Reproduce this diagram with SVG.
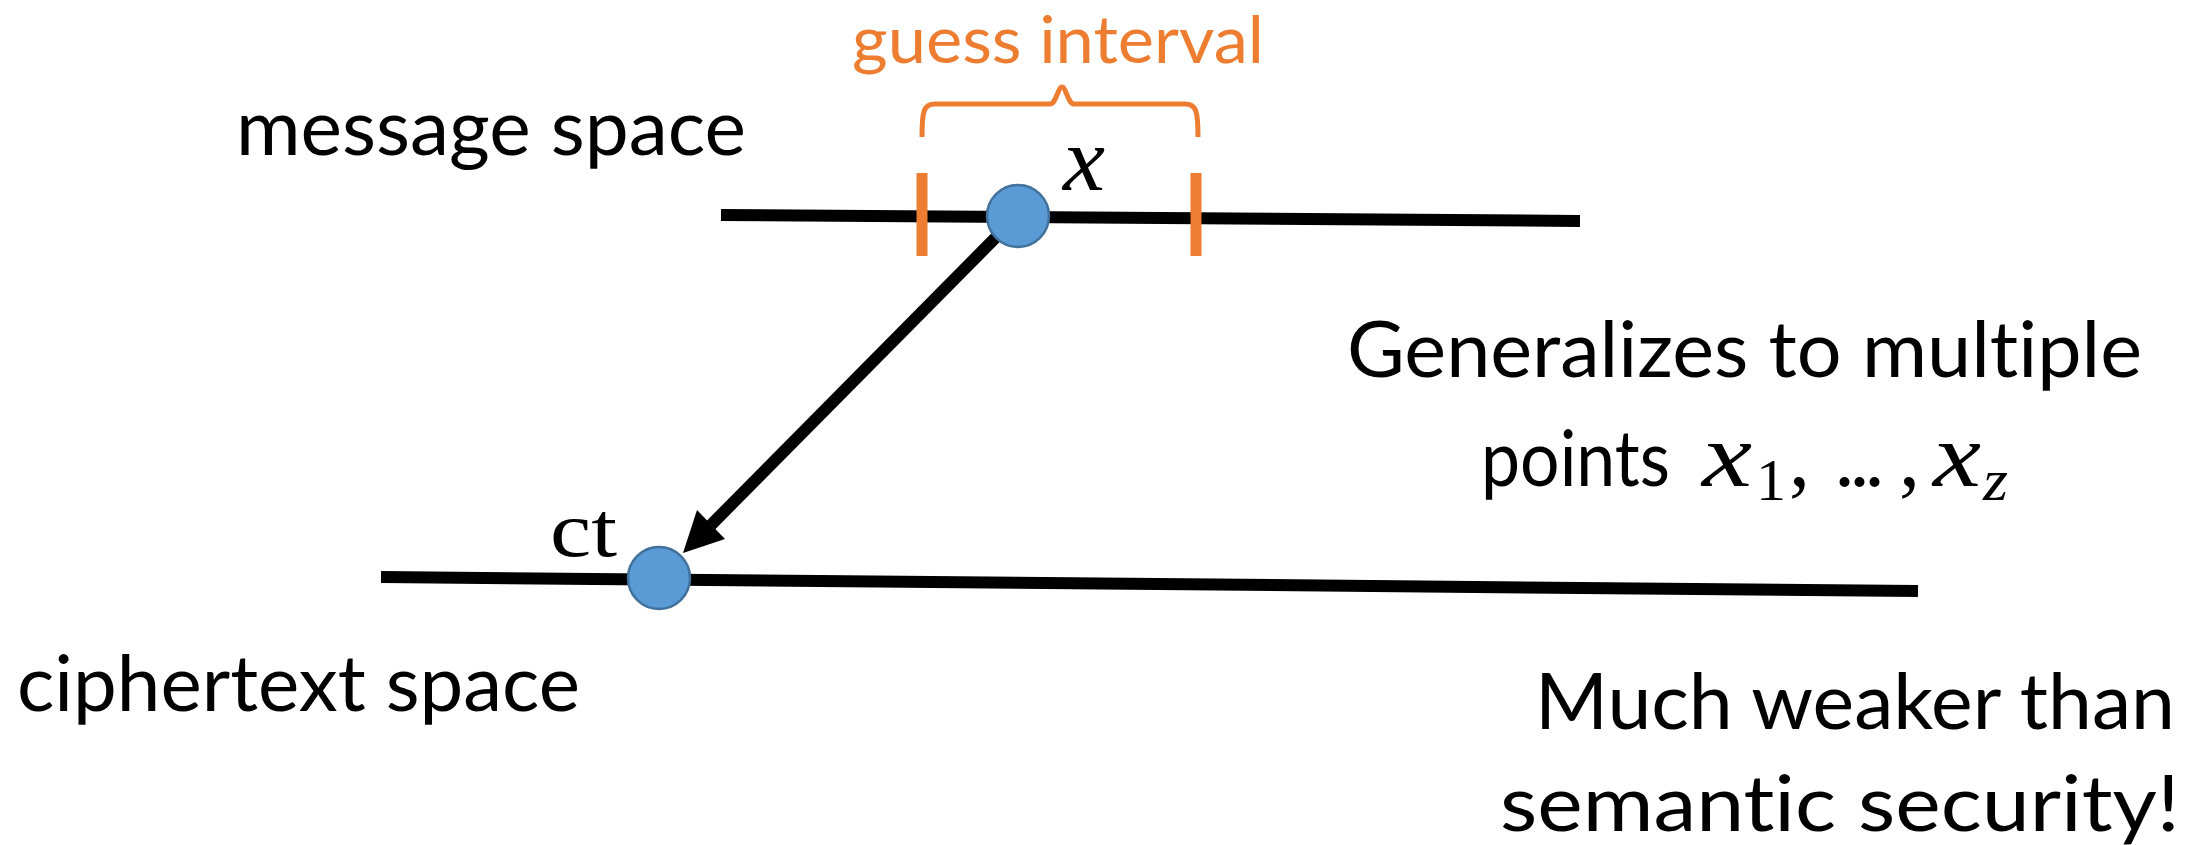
<svg xmlns="http://www.w3.org/2000/svg" width="2208" height="845" viewBox="0 0 2208 845">
<style>
.lbl{font-family:Lato,"Open Sans","Liberation Sans",sans-serif;font-size:77px;fill:#000;font-variant-ligatures:none}
.org{fill:#ED7D31}
.math{font-family:"Liberation Serif","DejaVu Serif",serif;fill:#000}
.mi{font-style:italic;font-size:90px}
.sub{font-size:60px}
.axis{stroke:#000;stroke-width:12;fill:none}
.tick{stroke:#ED7D31;stroke-width:11;fill:none}
.pt{fill:#5B9BD5;stroke:#41719C;stroke-width:2.5}
</style>
<rect width="2208" height="845" fill="#fff"/>
<g id="labels">
<text class="lbl" x="236" y="155" textLength="510" lengthAdjust="spacingAndGlyphs">message space</text>
<text class="lbl" x="17" y="711" textLength="563" lengthAdjust="spacingAndGlyphs">ciphertext space</text>
<text class="lbl org" x="852" y="63" style="font-size:66px" textLength="412" lengthAdjust="spacingAndGlyphs">guess interval</text>
<text class="lbl" x="1347" y="377" textLength="795" lengthAdjust="spacingAndGlyphs">Generalizes to multiple</text>
<text class="lbl" x="1481" y="486" textLength="189" lengthAdjust="spacingAndGlyphs">points</text>
<text class="math mi" x="1702" y="486" textLength="50" lengthAdjust="spacingAndGlyphs">x</text>
<text class="math sub" x="1756" y="500" textLength="30" lengthAdjust="spacingAndGlyphs">1</text>
<text class="math" x="1789" y="486" style="font-size:84px">,</text>
<text class="math" x="1834" y="486" style="font-size:84px" textLength="51" lengthAdjust="spacing">...</text>
<text class="math" x="1899" y="486" style="font-size:84px">,</text>
<text class="math mi" x="1933" y="486" textLength="48" lengthAdjust="spacingAndGlyphs">x</text>
<text class="math sub" x="1983" y="500" font-style="italic" textLength="25" lengthAdjust="spacingAndGlyphs">z</text>
<text class="lbl" x="1535" y="729" textLength="640" lengthAdjust="spacingAndGlyphs">Much weaker than</text>
<text class="lbl" x="1500" y="831" textLength="680" lengthAdjust="spacingAndGlyphs">semantic security!</text>
</g>
<g id="message-space">
<line class="axis" x1="721" y1="215" x2="1580" y2="221"/>
<path id="guess-brace" d="M922,137 C922,110 924,104 935,104 L1050,104 C1056,104 1058,87 1062,87 C1066,87 1068,104 1074,104 L1185,104 C1196,104 1198,110 1198,137" stroke="#ED7D31" stroke-width="5" fill="none"/>
<line class="tick" x1="922" y1="173" x2="922" y2="256"/>
<line class="tick" x1="1196" y1="173" x2="1196" y2="256"/>
</g>
<g id="ciphertext-space">
<line class="axis" x1="381" y1="577" x2="1918" y2="591"/>
</g>
<g id="connectors">
<line x1="1017" y1="216" x2="711" y2="525" stroke="#000" stroke-width="12"/>
<polygon points="683,553 725,539 697,510" fill="#000"/>
</g>
<g id="node-x">
<circle class="pt" cx="1018" cy="216" r="31"/>
<text class="math mi" x="1063" y="190" textLength="42" lengthAdjust="spacingAndGlyphs">x</text>
</g>
<g id="node-ct">
<circle class="pt" cx="659" cy="578" r="31"/>
<text class="math" x="550" y="556" style="font-size:78px" textLength="67" lengthAdjust="spacingAndGlyphs">ct</text>
</g>
</svg>
